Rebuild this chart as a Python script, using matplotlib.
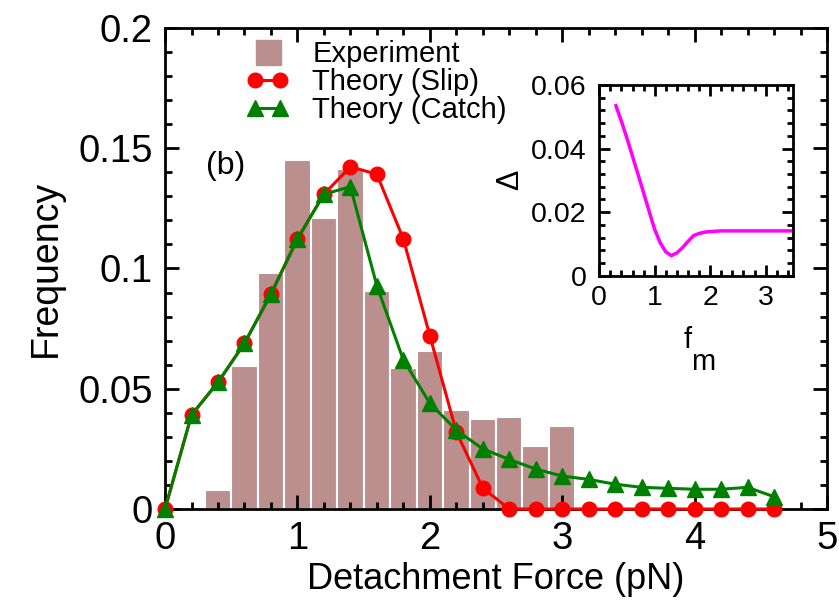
import matplotlib
matplotlib.use("Agg")
import matplotlib.pyplot as plt
from matplotlib.lines import Line2D
from matplotlib.legend_handler import HandlerLine2D
from matplotlib.ticker import MultipleLocator

plt.rcParams['font.family'] = ['Liberation Sans', 'DejaVu Sans']

# Experiment histogram (bin centres, frequency)
exp_force = [0.4, 0.6, 0.8, 1.0, 1.2, 1.4, 1.6, 1.8, 2.0, 2.2, 2.4, 2.6, 2.8, 3.0]
exp_freq = [0.008, 0.0596, 0.098, 0.1451, 0.1211, 0.1414, 0.0908, 0.0588,
            0.0657, 0.0412, 0.0374, 0.0384, 0.0263, 0.0344]

# Theory curves
th_force = [0.0, 0.2, 0.4, 0.6, 0.8, 1.0, 1.2, 1.4, 1.6, 1.8, 2.0, 2.2,
            2.4, 2.6, 2.8, 3.0, 3.2, 3.4, 3.6, 3.8, 4.0, 4.2, 4.4, 4.6]
slip = [0.0, 0.0391, 0.0527, 0.0689, 0.0894, 0.1123, 0.1309, 0.1423, 0.1392,
        0.1123, 0.0721, 0.0321, 0.0087, 0.0, 0.0, 0.0, 0.0, 0.0, 0.0, 0.0,
        0.0, 0.0, 0.0, 0.0]
catch = [0.0, 0.0391, 0.0527, 0.0689, 0.0894, 0.1123, 0.1309, 0.134, 0.0928,
         0.062, 0.044, 0.0328, 0.025, 0.0206, 0.0166, 0.0137, 0.0123, 0.0103,
         0.009, 0.0086, 0.0082, 0.0082, 0.009, 0.0051]

# Inset: Delta vs f_m
fm = [0.3, 0.4, 0.5, 0.6, 0.7, 0.8, 0.9, 1.0, 1.1, 1.2, 1.3, 1.4, 1.5, 1.6,
      1.7, 1.8, 1.9, 2.0, 2.2, 2.5, 3.0, 3.5]
delta = [0.0535, 0.0485, 0.0432, 0.0375, 0.0318, 0.026, 0.0202, 0.0145,
         0.0103, 0.0075, 0.0063, 0.0072, 0.0088, 0.0108, 0.0126, 0.0133,
         0.0137, 0.0139, 0.0141, 0.0141, 0.0141, 0.0141]

bar_color = '#BC8F8F'

fig = plt.figure(figsize=(8.39, 6.05), dpi=100)
ax = fig.add_axes([0.1967, 0.1587, 0.789, 0.795])

ax.bar(exp_force, exp_freq, width=0.2, color=bar_color, edgecolor='white',
       linewidth=1.5, zorder=1)
ax.plot(th_force, slip, '-o', color='red', lw=2.2, ms=10.5, zorder=3,
        clip_on=False)
ax.plot(th_force, catch, '-^', color='green', lw=2.2, ms=11, zorder=4,
        clip_on=False)

ax.set_xlim(0, 5)
ax.set_ylim(0, 0.2)
ax.set_xticks([0, 1, 2, 3, 4, 5])
ax.set_xticklabels(['0', '1', '2', '3', '4', '5'])
ax.set_yticks([0, 0.05, 0.1, 0.15, 0.2])
ax.set_yticklabels(['0', '0.05', '0.1', '0.15', '0.2'])
ax.xaxis.set_minor_locator(MultipleLocator(0.2))
ax.yaxis.set_minor_locator(MultipleLocator(0.01))
ax.tick_params(which='both', direction='in', top=True, right=True, width=2)
ax.tick_params(which='major', length=10, labelsize=27.5, pad=9)
ax.tick_params(which='minor', length=5)
for s in ax.spines.values():
    s.set_linewidth(2)

ax.set_xlabel('Detachment Force (pN)', fontsize=26, labelpad=3)
ax.set_ylabel('Frequency', fontsize=27, labelpad=10)
ax.text(0.46, 0.1426, '(b)', fontsize=23, ha='center', va='center')

# legend (proxy handles)
sq = Line2D([], [], marker='s', ls='none', color=bar_color, ms=18)
handles = [
    sq,
    Line2D([], [], marker='o', color='red', lw=2.2, ms=10.5),
    Line2D([], [], marker='^', color='green', lw=2.2, ms=11),
]
labels = ['Experiment', 'Theory (Slip)', 'Theory (Catch)']
ax.legend(handles, labels, loc='upper left', bbox_to_anchor=(0.294, 0.934),
          bbox_transform=fig.transFigure, frameon=False, fontsize=21,
          handlelength=1.45, handletextpad=0.8, labelspacing=0.0,
          borderpad=0, borderaxespad=0, numpoints=2,
          handler_map={sq: HandlerLine2D(numpoints=1)})

# inset
ins = fig.add_axes([0.7143, 0.5443, 0.2313, 0.3152])
ins.plot(fm, delta, color='magenta', lw=2.5)
ins.set_xlim(0, 3.5)
ins.set_ylim(0, 0.06)
ins.set_xticks([0, 1, 2, 3])
ins.set_xticklabels(['0', '1', '2', '3'])
ins.set_yticks([0, 0.02, 0.04, 0.06])
ins.set_yticklabels(['0', '0.02', '0.04', '0.06'])
ins.xaxis.set_minor_locator(MultipleLocator(0.2))
ins.yaxis.set_minor_locator(MultipleLocator(0.004))
ins.tick_params(which='both', direction='in', top=True, right=True, width=2)
ins.tick_params(which='major', length=8, labelsize=20.5)
ins.tick_params(axis='x', which='major', pad=7)
ins.tick_params(axis='y', which='major', pad=9)
ins.tick_params(which='minor', length=4)
for s in ins.spines.values():
    s.set_linewidth(2)
ins.text(0.454, -0.335, 'f', fontsize=21, ha='center', va='center',
         transform=ins.transAxes)
ins.text(0.535, -0.45, 'm', fontsize=21, ha='center', va='center',
         transform=ins.transAxes)
ins.set_ylabel('\u0394', fontsize=22, labelpad=4)

fig.savefig('out.png', dpi=100)
